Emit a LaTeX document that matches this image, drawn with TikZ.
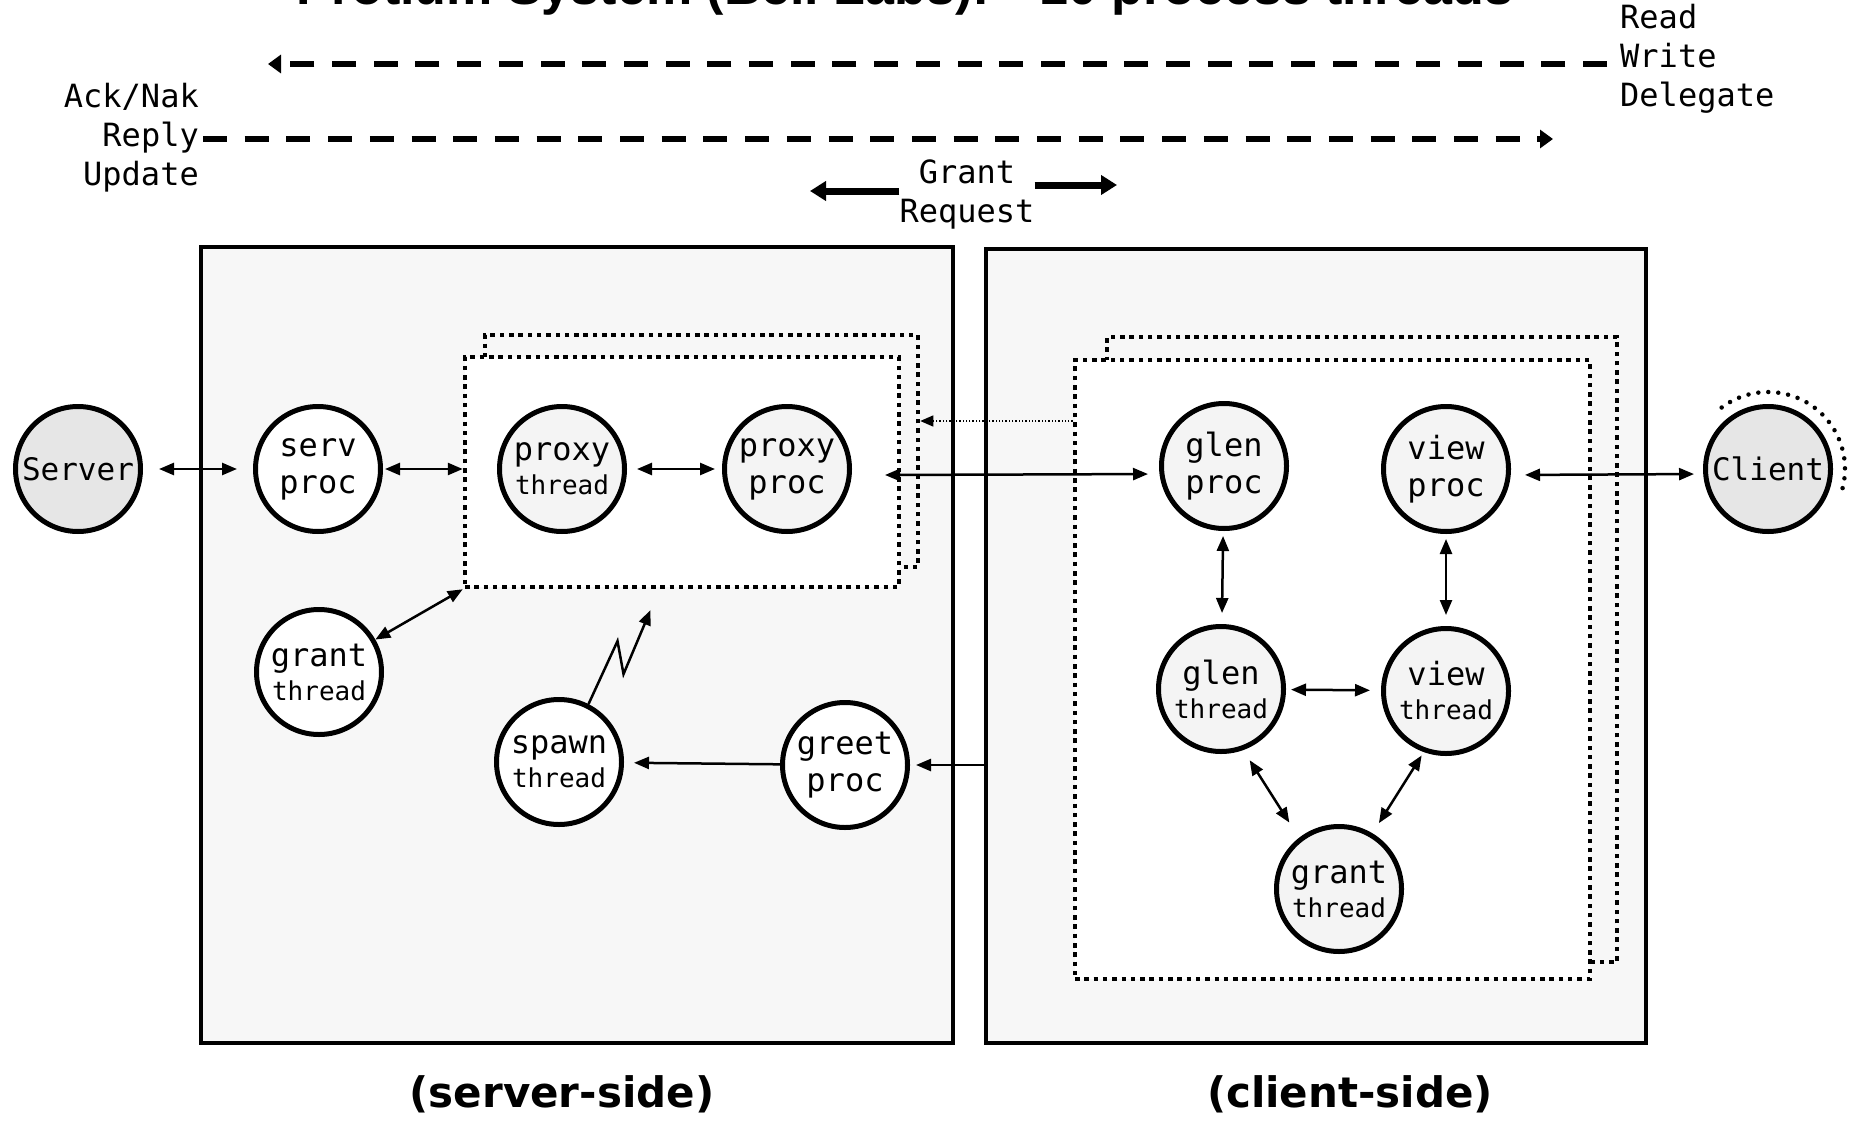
\documentclass[tikz,border=0pt]{standalone}
\usepackage{fontspec}
\usepackage{tikz}
\usetikzlibrary{arrows.meta, positioning}
\newfontfamily\monofont{DejaVu Sans Mono}
\newfontfamily\capfont{DejaVu Sans}
\newfontfamily\titlefont{Liberation Sans}
\definecolor{boxgray}{RGB}{247,247,247}
\definecolor{procgray}{RGB}{244,244,244}
\definecolor{endgray}{RGB}{230,230,230}
\newcommand{\thr}{{\fontsize{26}{28}\selectfont thread}}

\begin{document}
\begin{tikzpicture}[x=1pt, y=-1pt,
    proc/.style={circle, draw, line width=5pt, minimum size=125pt, inner sep=0pt, fill=procgray,
      font=\monofont\fontsize{32}{37}\selectfont, align=center},
    side/.style={draw, line width=3.5pt, fill=boxgray, inner sep=0pt},
    frame/.style={draw, line width=4.5pt, dash pattern=on 4.5pt off 4.8pt, inner sep=0pt},
    lbl/.style={font=\monofont\fontsize{32}{39}\selectfont, inner sep=0pt},
    sidecap/.style={font=\capfont\bfseries\fontsize{42}{42}\selectfont},
    dbl/.style={line width=2.5pt, {Triangle[length=15pt,width=12pt]}-{Triangle[length=15pt,width=12pt]}},
    one/.style={line width=2.5pt, -{Triangle[length=15pt,width=12pt]}},
    dash arrow/.style={line width=6.5pt, dash pattern=on 24pt off 17.7pt, -{Triangle[length=13pt,width=18pt]}},
    fat/.style={line width=7pt, -{Triangle[length=16pt,width=19pt]}}]
    \useasboundingbox (0,0) rectangle (1852,1121);

    % title (cut off by the page edge)
    \node[anchor=base, inner sep=0pt, font=\titlefont\bfseries\fontsize{52}{52}\selectfont] (title) at (905,5)
      {Protium System (Bell Labs): \textasciitilde10 process threads};

    % message labels
    \node[lbl, anchor=west, align=left] (rwd) at (1620,59) {Read\\Write\\Delegate};
    \node[lbl, anchor=east, align=right] (anr) at (199,138) {Ack/Nak\\Reply\\Update};
    \node[lbl, align=center] (gr) at (967,194) {Grant\\Request};
    \coordinate (wrtip) at (268,64);
    \coordinate (rptip) at (1553,139);
    \coordinate (reqtip) at (810,191);
    \coordinate (granttip) at (1117,185);
    \draw[dash arrow] ([shift={(-13,5)}]rwd.west) -- (wrtip);
    \draw[dash arrow] ([shift={(4,1)}]anr.east) -- (rptip);
    \draw[fat] (gr.west |- reqtip) -- (reqtip);
    \draw[fat] (gr.east |- granttip) -- (granttip);

    % the two sides
    \node[side, minimum width=752pt, minimum height=796pt] (servbox) at (577,645) {};
    \node[side, minimum width=660pt, minimum height=794pt] (clientbox) at (1316,646) {};
    \node[sidecap] (servcap) at (562,1094) {(server-side)};
    \node[sidecap] (clientcap) at (1350,1094) {(client-side)};

    % dotted frames
    \node[frame, minimum width=433pt, minimum height=232pt] (proxyback) at (701.5,451) {};
    \node[frame, fill=white, minimum width=434pt, minimum height=230pt] (proxyframe) at (682,472) {};
    \node[frame, minimum width=510pt, minimum height=625pt] (clientback) at (1362,649.5) {};
    \node[frame, fill=white, minimum width=515pt, minimum height=619pt] (clientframe) at (1332.5,669.5) {};

    % processes and threads
    \node[proc, fill=endgray, font=\monofont\fontsize{31}{33}\selectfont] (server) at (78,469) {Server};
    \node[proc, fill=white] (servproc) at (318,469) {serv\\proc};
    \node[proc, fill=white] (grantL) at (319,672) {grant\\[-3pt]\thr};
    \node[proc, fill=white] (spawn) at (559,762) {spawn\\[-3pt]\thr};
    \node[proc, fill=white] (greet) at (845,765) {greet\\proc};
    \node[proc] (proxythread) at (562,469) {proxy\\[-3pt]\thr};
    \node[proc] (proxyproc) at (787,469) {proxy\\proc};
    \node[proc] (glenproc) at (1224,466) {glen\\proc};
    \node[proc] (viewproc) at (1446,469) {view\\proc};
    \node[proc] (glenthread) at (1221,689) {glen\\[-3pt]\thr};
    \node[proc] (viewthread) at (1446,691) {view\\[-3pt]\thr};
    \node[proc] (grantR) at (1339,889) {grant\\[-3pt]\thr};
    \node[proc, fill=endgray, font=\monofont\fontsize{31}{33}\selectfont] (client) at (1768,469) {Client};
    \draw[line width=4.5pt, line cap=round, dash pattern=on 0pt off 10pt]
      ([shift={(-127:77)}]client.center) arc[start angle=-127, end angle=15, radius=77];

    % connectors
    \draw[dbl, shorten <=16pt, shorten >=16pt] (server) -- (servproc);
    \draw[dbl, shorten <=2pt] (servproc) -- (servproc -| proxyframe.west);
    \draw[dbl, shorten <=10pt, shorten >=7pt] (proxythread) -- (proxyproc);
    \draw[dbl, shorten >=11pt] ([shift={(33,6)}]proxyproc.east) -- ([shift={(0,8)}]glenproc.west);
    \coordinate (hint) at (1000,421);
    \draw[line width=1.3pt, dotted, -{Triangle[length=13pt,width=11pt]}] (clientframe.west |- hint) -- (proxyback.east |- hint);
    \draw[dbl] (grantL) -- (proxyframe.south west);
    \draw[one] (spawn.63) -- ++(29,-63) -- ++(6,33) -- ++(27,-64);
    \draw[one, shorten >=10pt] (greet) -- (spawn);
    \draw[one, shorten >=6pt] (clientbox.west |- greet) -- (greet);
    \draw[dbl, shorten <=5pt, shorten >=11pt] (glenproc) -- (glenthread);
    \draw[dbl, shorten <=5pt, shorten >=11pt] (viewproc) -- (viewthread);
    \draw[dbl, shorten <=5pt, shorten >=11pt] (glenthread) -- (viewthread);
    \draw[dbl, shorten <=12pt, shorten >=18pt] (glenthread.-70) -- (grantR.128);
    \draw[dbl, shorten <=4pt, shorten >=12pt] (viewthread.-110) -- (grantR.59);
    \draw[dbl, shorten <=14pt, shorten >=9pt] ([shift={(0,6)}]viewproc.east) -- ([shift={(0,5)}]client.west);
\end{tikzpicture}
\end{document}
